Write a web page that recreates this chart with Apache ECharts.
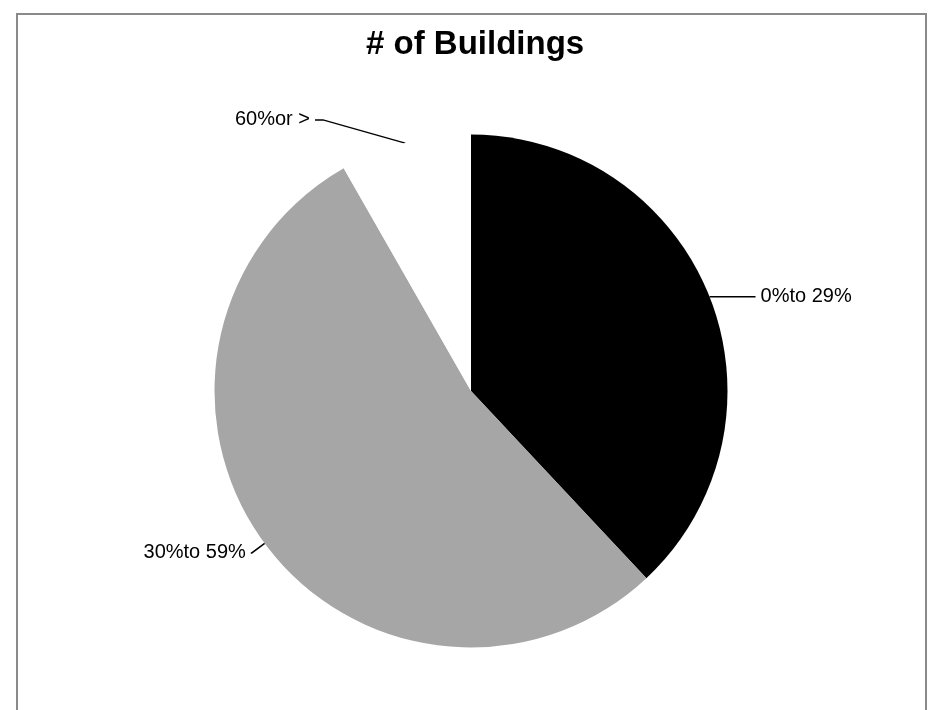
<!DOCTYPE html>
<html>
<head>
<meta charset="utf-8">
<script src="https://cdn.jsdelivr.net/npm/echarts@6/dist/echarts.min.js"></script>
<style>
  html, body { margin: 0; padding: 0; background: #ffffff; }
  #chart { width: 928px; height: 710px; }
</style>
</head>
<body>
<div id="chart"></div>
<script>
// Share of buildings by percentage band
const categories = ['0%to 29%', '30%to 59%', '60%or >'];
const buildingCounts = [46, 65, 10];
const sliceColors = ['#000000', '#a6a6a6', '#ffffff'];
const chartTitle = '# of Buildings';

// Leader line lengths per slice: [radial, horizontal]
const leaderLengths = [[0, 46], [16, 1], [24, 84]];

const chart = echarts.init(document.getElementById('chart'), null, { renderer: 'canvas' });

const pieData = categories.map((name, i) => ({
  name: name,
  value: buildingCounts[i],
  itemStyle: { color: sliceColors[i] },
  labelLine: { length: leaderLengths[i][0], length2: leaderLengths[i][1] }
}));

chart.setOption({
  animation: false,
  backgroundColor: '#ffffff',
  title: {
    text: chartTitle,
    left: 361,
    top: 23,
    textStyle: {
      fontFamily: 'Liberation Sans, Arial, sans-serif',
      fontSize: 33,
      fontWeight: 'bold',
      color: '#000000'
    }
  },
  graphic: [{
    type: 'rect',
    shape: { x: 17, y: 14, width: 909, height: 720 },
    style: { fill: 'none', stroke: '#8a8a8a', lineWidth: 2 },
    silent: true,
    z: 0
  }],
  series: [{
    type: 'pie',
    center: [471, 391],
    radius: [0, 256.5],
    startAngle: 90,
    clockwise: true,
    avoidLabelOverlap: false,
    data: pieData,
    itemStyle: { borderWidth: 0 },
    emphasis: { disabled: true },
    label: {
      show: true,
      position: 'outside',
      formatter: '{b}',
      distanceToLabelLine: 5,
      fontFamily: 'Liberation Sans, Arial, sans-serif',
      fontSize: 20,
      color: '#000000'
    },
    labelLine: {
      show: true,
      smooth: false,
      lineStyle: { color: '#000000', width: 1.5 }
    },
    // The long leader of the small slice runs diagonally, with a short
    // horizontal tail next to its text.
    labelLayout: function (params) {
      if (params.dataIndex !== 2 || !params.labelLinePoints) return {};
      const pts = params.labelLinePoints;
      const start = pts[0];
      const end = pts[2];
      return {
        labelLinePoints: [start, [end[0] + 8, end[1]], end]
      };
    }
  }]
});
</script>
</body>
</html>
